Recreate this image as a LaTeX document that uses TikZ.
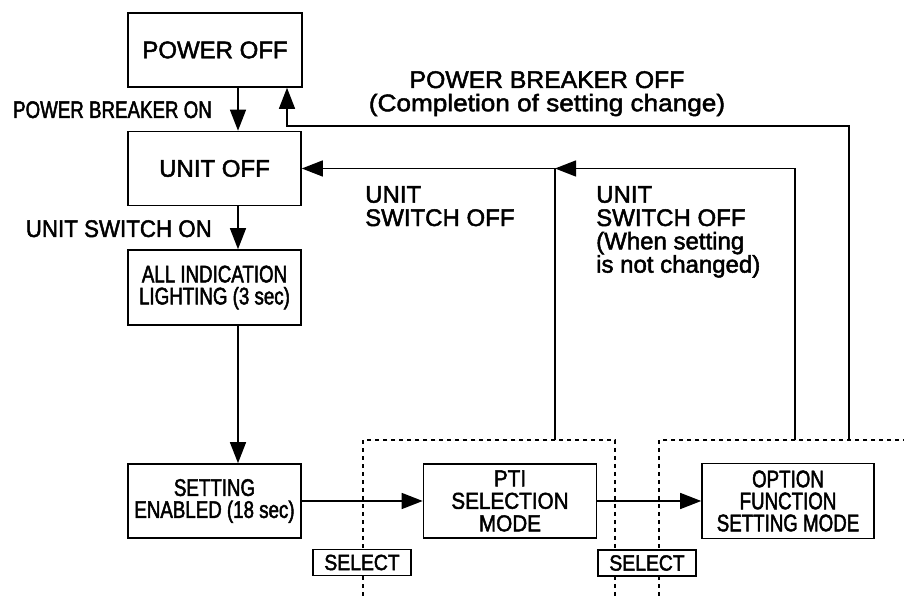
\documentclass[tikz,border=0pt]{standalone}
\usepackage{fontspec}
\setmainfont[FakeBold=2]{Liberation Sans}
\newfontfamily\fcA[FakeStretch=0.78,FakeBold=2]{Liberation Sans}
\newfontfamily\fcB[FakeStretch=0.90,FakeBold=2]{Liberation Sans}
\newfontfamily\fcC[FakeStretch=0.93,FakeBold=2]{Liberation Sans}
\newfontfamily\fcD[FakeStretch=0.88,FakeBold=2]{Liberation Sans}
\newfontfamily\fcV[FakeStretch=1.03,FakeBold=2]{Liberation Sans}
\newfontfamily\fcW[FakeStretch=1.09,FakeBold=2]{Liberation Sans}
\usetikzlibrary{arrows.meta}
\tikzset{
  box/.style={draw, line width=1.6pt, minimum width=173pt, minimum height=74pt, inner sep=0pt, align=center},
  arr/.style={line width=1.4pt, -{Triangle[length=21pt,width=16pt]}},
  dotln/.style={line width=1.4pt, dash pattern=on 4pt off 4pt},
  selbox/.style={draw, fill=white, line width=1.4pt, minimum width=98pt, minimum height=26pt, inner sep=0pt, font={\fcD\fontsize{22}{22}\selectfont}},
  lab/.style={inner sep=0pt, font={\fontsize{24}{23.3}\selectfont}},
  bigtxt/.style={font={\fontsize{24}{23}\selectfont}},
  condtxt/.style={font={\fcA\fontsize{24}{22}\selectfont}},
  ptitxt/.style={font={\fcB\fontsize{23}{22.5}\selectfont}}
}
\begin{document}
\begin{tikzpicture}[x=1pt,y=1pt]
\useasboundingbox (0,0) rectangle (904,596);
% boxes
\node[box, bigtxt, minimum width=174pt] (poweroff) at (215,546) {POWER OFF};
\node[box, bigtxt] (unitoff) at (214.5,427.5) {UNIT OFF};
\node[box, condtxt, minimum height=75pt] (allind) at (214.5,308.5) {ALL INDICATION\\LIGHTING (3 sec)};
\node[box, condtxt] (setting) at (214.5,95) {SETTING\\ENABLED (18 sec)};
\node[box, ptitxt] (pti) at (510,95) {PTI\\SELECTION\\MODE};
\node[box, condtxt, minimum width=172pt, minimum height=75pt] (option) at (788,95) {OPTION\\FUNCTION\\SETTING MODE};
% coordinates
\coordinate (xa) at (238,0);
\coordinate (ja) at (555,156);
\coordinate (jb) at (795,156);
\coordinate (jc) at (849,156);
\coordinate (pbturn) at (287,470);
% main flow
\draw[arr] (poweroff.south -| xa) -- (unitoff.north -| xa);
\draw[arr] (unitoff.south -| xa) -- (allind.north -| xa);
\draw[arr] (allind.south -| xa) -- (setting.north -| xa);
\draw[arr] (setting.east) -- (pti.west);
\draw[arr] (pti.east) -- (option.west);
% returns
\draw[arr] (ja) |- (unitoff.east);
\draw[arr] (jb) |- (unitoff.east -| ja);
\draw[arr] (jc) |- (pbturn) -- (poweroff.south -| pbturn);
% dotted regions
\draw[dotln] (363,0) -- (363,156) -- (615,156) -- (615,0);
\draw[dotln] (659,0) -- (659,156) -- (904,156);
% select labels
\node[selbox] (sel1) at (362,33.5) {SELECT};
\node[selbox] (sel2) at (647,33) {SELECT};
% labels
\node[lab, anchor=base east, font={\fcA\fontsize{24}{23}\selectfont}] (lpbon) at (212,478) {POWER BREAKER ON};
\node[lab, anchor=base east, font={\fcC\fontsize{24}{23}\selectfont}] (luson) at (212,359) {UNIT SWITCH ON};
\node[lab, anchor=north, align=center] (lpboff) at (547,525) {{\fcV POWER BREAKER OFF}\\{\fcW (Completion of setting change)}};
\node[lab, anchor=north west, align=left] (lusoffa) at (365,410) {UNIT\\SWITCH OFF};
\node[lab, anchor=north west, align=left] (lusoffb) at (596,410) {UNIT\\SWITCH OFF\\(When setting\\is not changed)};
\end{tikzpicture}
\end{document}
